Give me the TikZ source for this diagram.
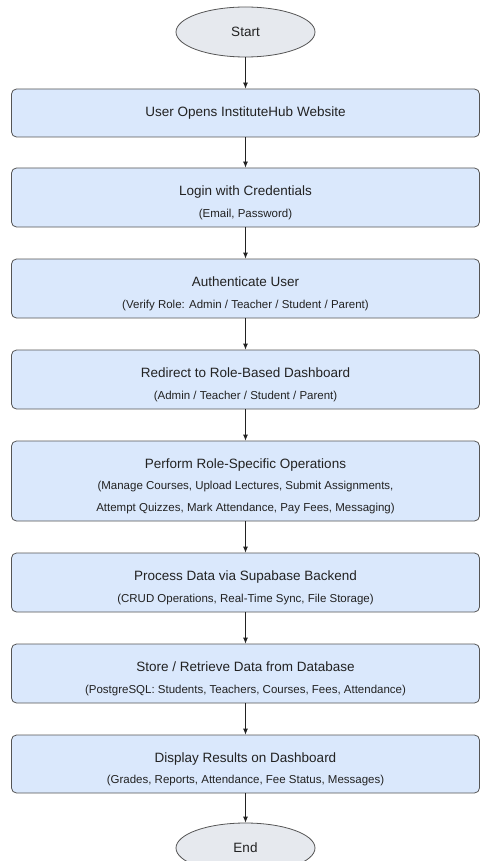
\documentclass[tikz,border=0pt]{standalone}
\usepackage{fontspec}
\setmainfont{Liberation Sans}
\usepackage{xcolor}
\usetikzlibrary{arrows.meta, positioning, shapes.geometric}
\definecolor{boxfill}{HTML}{DAE8FC}
\definecolor{boxline}{HTML}{555555}
\definecolor{termfill}{HTML}{E6E9EE}
\definecolor{inktext}{HTML}{222222}
\newcommand{\stepnote}[1]{{\fontsize{11.5}{21.5}\selectfont #1}}
\newcommand{\titlestrut}{\rule{0pt}{20pt}}

\begin{document}
\begin{tikzpicture}[x=1pt, y=-1pt,
    stepbox/.style={draw=boxline, fill=boxfill, rounded corners=5pt, line width=0.8pt,
        minimum width=468pt, minimum height=59pt, inner sep=0pt, align=center,
        text=inktext, font=\fontsize{13.5}{21.5}\selectfont},
    terminal/.style={ellipse, draw=boxline, fill=termfill, line width=0.8pt,
        minimum width=139pt, minimum height=50pt, inner sep=0pt,
        text=inktext, font=\fontsize{13.5}{16}\selectfont},
    flow/.style={-{Latex[length=6pt,width=5pt]}, draw=inktext, line width=0.8pt}]
    \useasboundingbox (0,0) rectangle (480,861);
    \node[terminal] (start) at (245.5,32) {Start};
    \node[stepbox, minimum height=48pt] (opensite) at (245.5,113) {User Opens InstituteHub Website};
    \node[stepbox] (login) at (245.5,197.5) {\titlestrut Login with Credentials\\ \stepnote{(Email, Password)}};
    \node[stepbox] (auth) at (245.5,288.5) {\titlestrut Authenticate User\\ \stepnote{(Verify Role: Admin / Teacher / Student / Parent)}};
    \node[stepbox] (redirect) at (245.5,379.5) {\titlestrut Redirect to Role-Based Dashboard\\ \stepnote{(Admin / Teacher / Student / Parent)}};
    \node[stepbox, minimum height=80pt] (operate) at (245.5,481) {\titlestrut Perform Role-Specific Operations\\ \stepnote{(Manage Courses, Upload Lectures, Submit Assignments,}\\ \stepnote{Attempt Quizzes, Mark Attendance, Pay Fees, Messaging)}};
    \node[stepbox] (process) at (245.5,582.5) {\titlestrut Process Data via Supabase Backend\\ \stepnote{(CRUD Operations, Real-Time Sync, File Storage)}};
    \node[stepbox] (store) at (245.5,673.5) {\titlestrut Store / Retrieve Data from Database\\ \stepnote{(PostgreSQL: Students, Teachers, Courses, Fees, Attendance)}};
    \node[stepbox, minimum height=58pt] (display) at (245.5,764) {\titlestrut Display Results on Dashboard\\ \stepnote{(Grades, Reports, Attendance, Fee Status, Messages)}};
    \node[terminal] (finish) at (245.5,848) {End};
    \draw[flow] (start) -- (opensite);
    \draw[flow] (opensite) -- (login);
    \draw[flow] (login) -- (auth);
    \draw[flow] (auth) -- (redirect);
    \draw[flow] (redirect) -- (operate);
    \draw[flow] (operate) -- (process);
    \draw[flow] (process) -- (store);
    \draw[flow] (store) -- (display);
    \draw[flow] (display) -- (finish);
\end{tikzpicture}
\end{document}
